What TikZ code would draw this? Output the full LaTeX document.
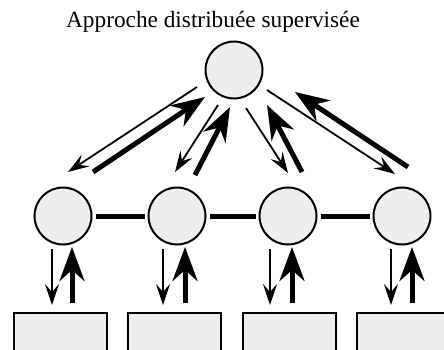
\documentclass[tikz,border=0pt]{standalone}
\usepackage{fontspec}
\setmainfont{Liberation Serif}
\usetikzlibrary{arrows.meta}
\definecolor{nodegray}{HTML}{EEEEEE}
\tikzset{
  x=1pt,y=1pt,
  agent/.style={circle,draw=black,line width=2pt,fill=nodegray,minimum size=57pt,inner sep=0pt},
  res/.style={rectangle,draw=black,line width=2pt,fill=nodegray,minimum width=93pt,minimum height=70pt,inner sep=0pt,anchor=north},
  thinarr/.style={line width=1.8pt,-{Stealth[length=21pt,width=14pt,inset=8pt]}},
  thickarr/.style={line width=5pt,-{Stealth[length=34pt,width=25pt,inset=11pt]}},
  link/.style={line width=5pt,shorten <=3pt,shorten >=3pt}
}
\begin{document}
\begin{tikzpicture}
\useasboundingbox (0,0) rectangle (444,-349);
\clip (0,0) rectangle (444,-349);
\node[font=\fontsize{23.3}{28}\selectfont,anchor=base] (title) at (213,-27) {Approche distribuée supervisée};
\node[agent] (T) at (234,-70) {};
\node[agent] (M1) at (63,-216) {};
\node[agent] (M2) at (177,-216) {};
\node[agent] (M3) at (288,-216) {};
\node[agent] (M4) at (402,-216) {};
\node[res] (B1) at (60,-312) {};
\node[res] (B2) at (174.5,-312) {};
\node[res] (B3) at (289,-312) {};
\node[res] (B4) at (403,-312) {};
\draw[link] (M1) -- (M2);
\draw[link] (M2) -- (M3);
\draw[link] (M3) -- (M4);
% diagonal arrow endpoints
\coordinate (d1a) at (197,-87);  \coordinate (d1b) at (68,-172);
\coordinate (u1a) at (93,-172);  \coordinate (u1b) at (205,-97);
\coordinate (d2a) at (218,-105); \coordinate (d2b) at (175,-172);
\coordinate (u2a) at (195,-175); \coordinate (u2b) at (230,-107);
\coordinate (d3a) at (246,-108); \coordinate (d3b) at (288,-173);
\coordinate (u3a) at (302,-172); \coordinate (u3b) at (267,-105);
\coordinate (d4a) at (267,-90);  \coordinate (d4b) at (395,-174);
\coordinate (u4a) at (408,-167); \coordinate (u4b) at (295,-92);
\draw[thinarr] (d1a) -- (d1b);
\draw[thickarr] (u1a) -- (u1b);
\draw[thinarr] (d2a) -- (d2b);
\draw[thickarr] (u2a) -- (u2b);
\draw[thinarr] (d3a) -- (d3b);
\draw[thickarr] (u3a) -- (u3b);
\draw[thinarr] (d4a) -- (d4b);
\draw[thickarr] (u4a) -- (u4b);
% vertical arrows
\coordinate (v1a) at (52,-249);  \coordinate (v1b) at (52,-305);
\coordinate (w1a) at (72,-303);  \coordinate (w1b) at (72,-247);
\coordinate (v2a) at (163,-249); \coordinate (v2b) at (163,-305);
\coordinate (w2a) at (185,-303); \coordinate (w2b) at (185,-247);
\coordinate (v3a) at (270,-249); \coordinate (v3b) at (270,-305);
\coordinate (w3a) at (292,-303); \coordinate (w3b) at (292,-247);
\coordinate (v4a) at (391,-249); \coordinate (v4b) at (391,-305);
\coordinate (w4a) at (412,-303); \coordinate (w4b) at (412,-247);
\foreach \i in {1,2,3,4}{
  \draw[thinarr] (v\i a) -- (v\i b);
  \draw[thickarr] (w\i a) -- (w\i b);
}
\end{tikzpicture}
\end{document}
